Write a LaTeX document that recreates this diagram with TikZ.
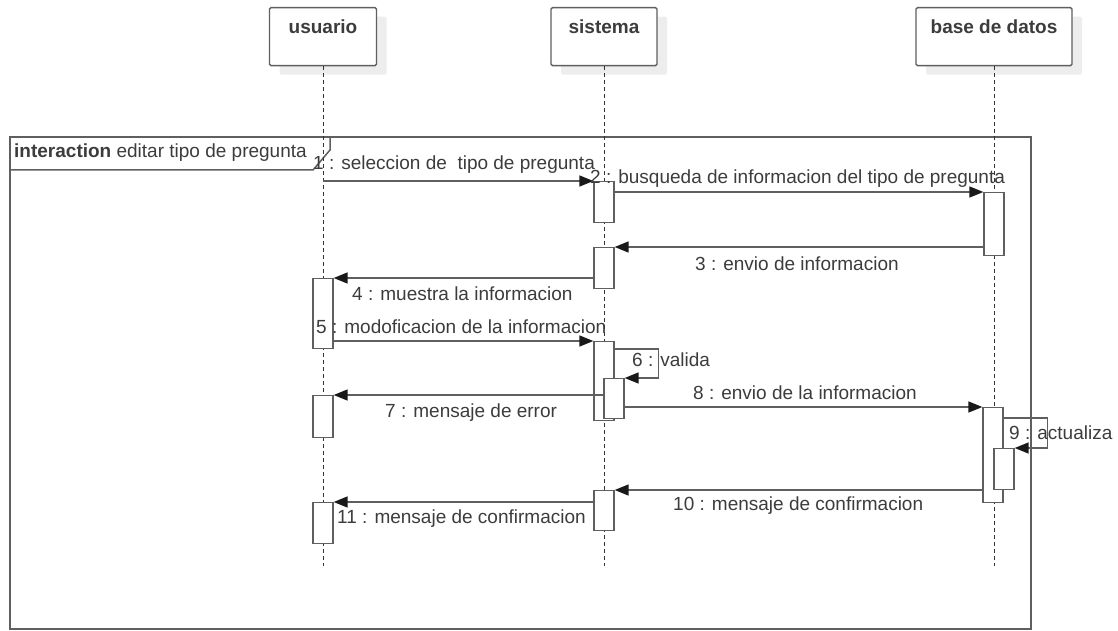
\documentclass[tikz,border=0pt]{standalone}
\usepackage{fontspec}
\setmainfont{Liberation Sans}
\usetikzlibrary{arrows.meta,calc,shadows}
\definecolor{ln}{HTML}{5F5F5F}
\definecolor{tx}{HTML}{3C3C3C}
\begin{document}
\begin{tikzpicture}[x=1pt,y=-1pt,
  font=\fontsize{19}{22}\selectfont, text=tx,
  head/.style={draw=ln, line width=1.3pt, fill=white, anchor=north, rounded corners=1.5pt,
    inner ysep=0pt, inner xsep=0pt, text height=26pt, text depth=32pt,
    font=\bfseries\fontsize{19}{22}\selectfont,
    drop shadow={shadow xshift=10pt, shadow yshift=-9pt, fill=black!7, opacity=1}},
  act/.style={draw=ln, line width=1.3pt, fill=white, minimum width=20pt, minimum height=#1,
    anchor=north, inner sep=0pt},
  msg/.style={draw=ln, line width=1.5pt, -{Triangle[length=14pt,width=11pt,color=black!90]}},
  life/.style={draw=black!80, line width=1pt, dash pattern=on 4pt off 3pt},
  lbl/.style={anchor=base west, inner sep=0pt},
  framestyle/.style={draw=ln, line width=1.5pt}]
\useasboundingbox (0,0) rectangle (1118,631);

% frame
\draw[framestyle] (10,137) rectangle (1031,629);
\draw[framestyle] (10,137) -- (330,137) -- (330,150) -- (313,170) -- (10,170);
\node[lbl] (frametitle) at (14,158) {\textbf{interaction} editar tipo de pregunta};

% lifeline heads
\node[head, minimum width=107pt] (usuario) at (323,7) {usuario};
\node[head, minimum width=106pt] (sistema) at (604,7) {sistema};
\node[head, minimum width=156pt] (bd) at (994,7) {base de datos};

\coordinate (uend) at (323,566);
\coordinate (send) at (604,566);
\coordinate (bend) at (994,566);
\draw[life] (usuario) -- (uend);
\draw[life] (sistema) -- (send);
\draw[life] (bd) -- (bend);

% activations
\node[act=70pt] (U1) at (323,278) {};
\node[act=42pt] (U2) at (323,395) {};
\node[act=41pt] (U3) at (323,502) {};
\node[act=41pt] (A1) at (604,181) {};
\node[act=41pt] (A2) at (604,247) {};
\node[act=79pt] (A3) at (604,341) {};
\node[act=40pt] (A4) at (614,378) {};
\node[act=40pt] (A5) at (604,490) {};
\node[act=63pt] (B1) at (994,192) {};
\node[act=95pt] (B2) at (993,407) {};
\node[act=41pt] (B3) at (1004,448) {};

% messages
\coordinate (m1s) at (323,181);
\draw[msg] (m1s) -- (A1.north west);
\draw[msg] (A1.east |- B1.north) -- (B1.north west);
\draw[msg] (B1.west |- A2.north) -- (A2.north east);
\draw[msg] (A2.west |- U1.north) -- (U1.north east);
\draw[msg] (U1.east |- A3.north) -- (A3.north west);
\draw[msg] ($(A3.north east)+(0,8)$) -- ++(44,0) |- (A4.north east);
\draw[msg] (A4.west |- U2.north) -- (U2.north east);
\draw[msg] (A4.east |- B2.north) -- (B2.north west);
\draw[msg] ($(B2.north east)+(0,11)$) -- ++(44,0) |- (B3.north east);
\draw[msg] (B2.west |- A5.north) -- (A5.north east);
\draw[msg] ($(A5.north west)+(0,12)$) -- (U3.north east);

% labels
\node[lbl] (l1) at (313,170) {1 : seleccion de\ \ tipo de pregunta};
\node[lbl] (l2) at (590,183) {2 : busqueda de informacion del tipo de pregunta};
\node[lbl] (l3) at (695,270) {3 : envio de informacion};
\node[lbl] (l4) at (352,300) {4 : muestra la informacion};
\node[lbl] (l5) at (316,333) {5 : modoficacion de la informacion};
\node[lbl] (l6) at (632,366) {6 : valida};
\node[lbl] (l7) at (385,417) {7 : mensaje de error};
\node[lbl] (l8) at (693,399) {8 : envio de la informacion};
\node[lbl] (l9) at (1009,439) {9 : actualiza};
\node[lbl] (l10) at (673,510) {10 : mensaje de confirmacion};
\node[lbl] (l11) at (337,523) {11 : mensaje de confirmacion};
\end{tikzpicture}
\end{document}
